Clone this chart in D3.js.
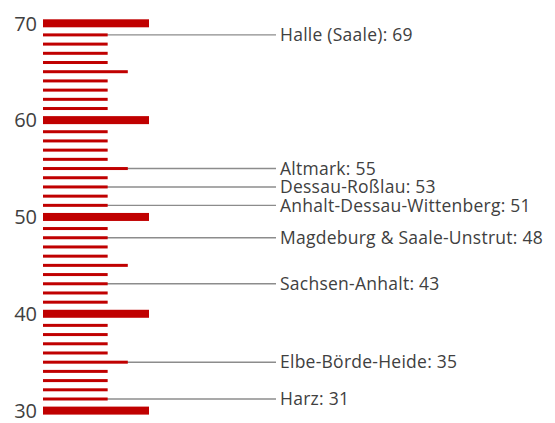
<!DOCTYPE html>
<html>
<head>
<meta charset="utf-8">
<script src="https://cdn.jsdelivr.net/npm/d3@7"></script>
<style>
  body { margin: 0; background: #fff; }
  svg text { font-family: "Open Sans", Lato, sans-serif; fill: #404040; }
</style>
</head>
<body>
<div id="chart"></div>
<script>
// scale runs from 30 to 70, one red tick per whole number
var scaleMin = 30, scaleMax = 70;
var tickValues = d3.range(scaleMin, scaleMax + 1);
var axisLabels = [30, 40, 50, 60, 70];

// regions shown on the scale
var regionNames = ["Halle (Saale)", "Altmark", "Dessau-Roßlau", "Anhalt-Dessau-Wittenberg",
  "Magdeburg & Saale-Unstrut", "Sachsen-Anhalt", "Elbe-Börde-Heide", "Harz"];
var regionValues = [69, 55, 53, 51, 48, 43, 35, 31];

var W = 555, H = 423;
var red = "#c00000", grey = "#8c8c8c";

var svg = d3.select("#chart").append("svg")
  .attr("width", W)
  .attr("height", H);

// the ten-steps get a bit more room than the other ticks
var gap = 0.52;
function slot(v) {
  var s = scaleMax - v;
  axisLabels.forEach(function(m) { if (m > v) s += gap; });
  if (v % 10 === 0) s += gap / 2;
  return s;
}
var y = d3.scaleLinear()
  .domain([slot(scaleMax), slot(scaleMin)])
  .range([23.3, 410.6]);
function yPos(v) { return y(slot(v)); }

// tick length: long at tens, medium at fives, short otherwise
var x = d3.scaleLinear().domain([0, 10]).range([43, 149]);
function level(v) { return v % 10 === 0 ? 10 : (v % 5 === 0 ? 8 : 6.1); }
function thick(v) { return v % 10 === 0 ? 8 : 3; }

// leader lines first, so the red ticks sit on top
var labelX = 276;
svg.selectAll("line.leader")
  .data(regionValues).enter().append("line")
  .attr("class", "leader")
  .attr("x1", function(d) { return x(level(d)) - 1; })
  .attr("x2", labelX)
  .attr("y1", function(d) { return yPos(d); })
  .attr("y2", function(d) { return yPos(d); })
  .style("stroke", grey)
  .style("stroke-width", 1.4);

svg.selectAll("rect.tick")
  .data(tickValues).enter().append("rect")
  .attr("class", "tick")
  .attr("x", x(0))
  .attr("width", function(d) { return x(level(d)) - x(0); })
  .attr("y", function(d) { return yPos(d) - thick(d) / 2; })
  .attr("height", function(d) { return thick(d); })
  .attr("fill", red);

svg.selectAll("text.axis")
  .data(axisLabels).enter().append("text")
  .attr("class", "axis")
  .attr("x", 37)
  .attr("y", function(d) { return yPos(d); })
  .attr("dy", "0.36em")
  .attr("text-anchor", "end")
  .style("font-size", "20px")
  .text(function(d) { return d; });

svg.selectAll("text.region")
  .data(regionNames).enter().append("text")
  .attr("class", "region")
  .attr("x", labelX + 4)
  .attr("y", function(d, i) { return yPos(regionValues[i]); })
  .attr("dy", "0.36em")
  .style("font-size", "17.5px")
  .style("letter-spacing", "0.25px")
  .text(function(d, i) { return d + ": " + regionValues[i]; });
</script>
</body>
</html>
